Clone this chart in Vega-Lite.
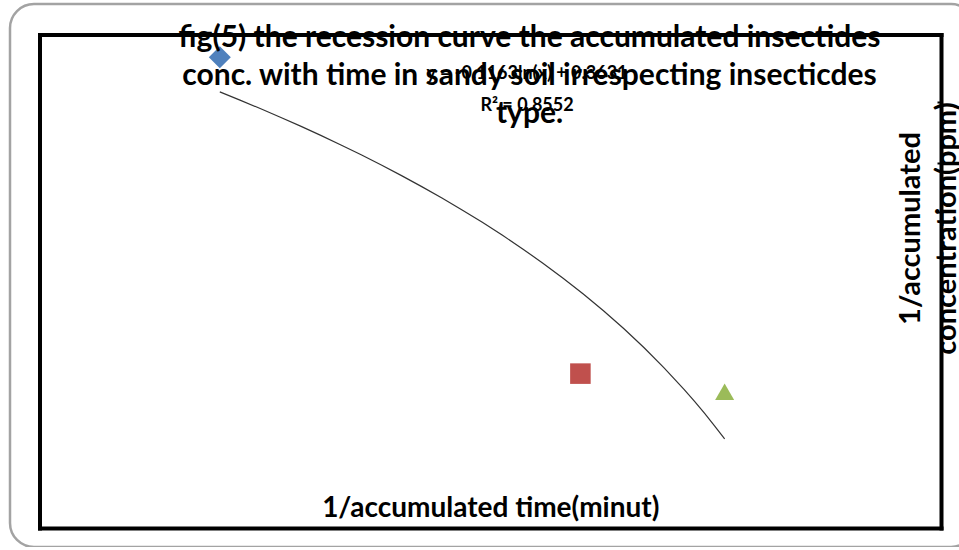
{
  "$schema": "https://vega.github.io/schema/vega-lite/v6.json",
  "width": 965,
  "height": 543,
  "autosize": {"type": "none"},
  "padding": {"left": 10, "top": 4, "right": 0, "bottom": 0},
  "background": "white",
  "config": {
    "view": {"stroke": "#a3a3a3", "strokeWidth": 2.5, "cornerRadius": 24},
    "font": "Lato",
    "axis": {"domainColor": "black", "domainWidth": 4, "domainCap": "square", "labels": false, "ticks": false, "grid": false}
  },
  "title": {
    "text": ["fig(5) the recession curve the accumulated insectides", "conc. with time  in sandy soil irrespecting insecticdes", "type."],
    "fontSize": 30,
    "fontWeight": "bold",
    "font": "Lato",
    "color": "black",
    "lineHeight": 38,
    "anchor": "middle",
    "frame": "group",
    "dx": 37,
    "dy": 129
  },
  "datasets": {
    "points": [
      {"series": "Series1", "inv_time": 0.8, "inv_conc": 0.3757},
      {"series": "Series2", "inv_time": 0.4, "inv_conc": 0.5028},
      {"series": "Series3", "inv_time": 0.24, "inv_conc": 0.5101}
    ],
    "equation": [
      {"label": "y = -0.1163ln(x) + 0.3631\nR² = 0.8552"}
    ]
  },
  "layer": [
    {
      "data": {"name": "points"},
      "transform": [
        {"regression": "inv_conc", "on": "inv_time", "method": "log", "extent": [0.24, 0.8]}
      ],
      "mark": {"type": "line", "color": "#333333", "strokeWidth": 1.2},
      "encoding": {
        "x": {
          "field": "inv_time", "type": "quantitative",
          "scale": {"domain": [0, 1], "range": [931, 29.5], "nice": false, "zero": false},
          "axis": {"orient": "top", "offset": -30.5, "title": null}
        },
        "y": {
          "field": "inv_conc", "type": "quantitative",
          "scale": {"domain": [0.3666, 0.5648], "range": [30.5, 524], "nice": false, "zero": false},
          "axis": {"orient": "left", "offset": -29.5, "title": null}
        }
      }
    },
    {
      "data": {"name": "points"},
      "mark": {"type": "point", "filled": true, "opacity": 1, "strokeWidth": 0},
      "encoding": {
        "x": {
          "field": "inv_time", "type": "quantitative",
          "axis": {
            "orient": "bottom", "offset": -19,
            "title": "1/accumulated time(minut)",
            "titleFontSize": 28, "titleFontWeight": "bold", "titleColor": "black", "titleFont": "Lato",
            "titleY": -12, "titleBaseline": "alphabetic"
          }
        },
        "y": {
          "field": "inv_conc", "type": "quantitative",
          "axis": {
            "orient": "right", "offset": -34,
            "ticks": true, "values": [0.3937, 0.4182, 0.4379], "tickSize": -4, "tickWidth": 2, "tickColor": "black",
            "title": ["1/accumulated", "concentration(ppm)"],
            "titleFontSize": 29, "titleFontWeight": "bold", "titleColor": "black", "titleFont": "Lato",
            "titleAngle": 270, "titleX": -22, "titleY": 224, "titleAlign": "center", "titleBaseline": "alphabetic", "titleLineHeight": 36
          }
        },
        "shape": {"field": "series", "type": "nominal", "scale": {"domain": ["Series1", "Series2", "Series3"], "range": ["diamond", "square", "triangle-up"]}, "legend": null},
        "color": {"field": "series", "type": "nominal", "scale": {"domain": ["Series1", "Series2", "Series3"], "range": ["#4f81bd", "#c0504d", "#9bbb59"]}, "legend": null},
        "size": {"field": "series", "type": "nominal", "scale": {"domain": ["Series1", "Series2", "Series3"], "range": [484, 361, 480]}, "legend": null}
      }
    },
    {
      "data": {"name": "equation"},
      "mark": {"type": "text", "lineBreak": "\n", "fontSize": 18, "fontWeight": "bold", "font": "Lato", "align": "center", "baseline": "top", "lineHeight": 32, "color": "black"},
      "encoding": {
        "x": {"datum": 0.4592, "type": "quantitative", "axis": null},
        "y": {"datum": 0.3788, "type": "quantitative", "axis": null},
        "text": {"field": "label", "type": "nominal"}
      }
    }
  ],
  "resolve": {"axis": {"x": "independent", "y": "independent"}}
}
